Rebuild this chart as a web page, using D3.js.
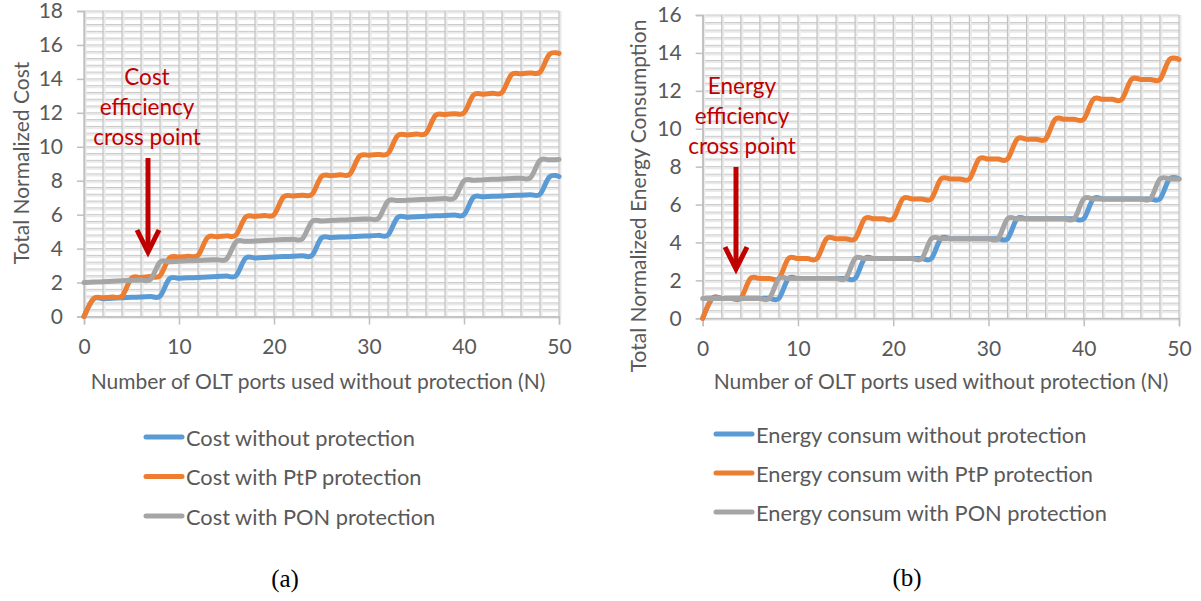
<!DOCTYPE html>
<html>
<head>
<meta charset="utf-8">
<script src="https://cdn.jsdelivr.net/npm/d3@7"></script>
<style>
  html, body { margin: 0; padding: 0; background: #ffffff; }
  svg { display: block; }
</style>
</head>
<body>
<svg id="chart" width="1201" height="601"></svg>
<script>
// ---------- DATA ----------
const ports = d3.range(0, 51); // N = 0..50

const costNone = [0, 1.03, 1.05, 1.08, 1.10, 1.13, 1.15, 1.18, 1.20,
  2.23, 2.25, 2.28, 2.30, 2.33, 2.35, 2.38, 2.40,
  3.43, 3.45, 3.48, 3.50, 3.53, 3.55, 3.58, 3.60,
  4.63, 4.65, 4.68, 4.70, 4.73, 4.75, 4.78, 4.80,
  5.83, 5.85, 5.88, 5.90, 5.93, 5.95, 5.98, 6.00,
  7.03, 7.05, 7.08, 7.10, 7.13, 7.15, 7.18, 7.20,
  8.23, 8.25];
const costPtP = [0, 1.05, 1.10, 1.15, 1.20, 2.25, 2.30, 2.35, 2.40,
  3.45, 3.50, 3.55, 3.60, 4.65, 4.70, 4.75, 4.80,
  5.85, 5.90, 5.95, 6.00, 7.05, 7.10, 7.15, 7.20,
  8.25, 8.30, 8.35, 8.40, 9.45, 9.50, 9.55, 9.60,
  10.65, 10.70, 10.75, 10.80, 11.85, 11.90, 11.95, 12.00,
  13.05, 13.10, 13.15, 13.20, 14.25, 14.30, 14.35, 14.40,
  15.45, 15.50];
const costPON = [2.00, 2.03, 2.05, 2.08, 2.10, 2.13, 2.15, 2.18,
  3.20, 3.23, 3.25, 3.28, 3.30, 3.33, 3.35, 3.38,
  4.40, 4.43, 4.45, 4.48, 4.50, 4.53, 4.55, 4.58,
  5.60, 5.63, 5.65, 5.68, 5.70, 5.73, 5.75, 5.78,
  6.80, 6.83, 6.85, 6.88, 6.90, 6.93, 6.95, 6.98,
  8.00, 8.03, 8.05, 8.08, 8.10, 8.13, 8.15, 8.18,
  9.20, 9.23, 9.25];

const energyNone = [0, 1.05, 1.05, 1.05, 1.05, 1.05, 1.05, 1.05, 1.05,
  2.10, 2.10, 2.10, 2.10, 2.10, 2.10, 2.10, 2.10,
  3.15, 3.15, 3.15, 3.15, 3.15, 3.15, 3.15, 3.15,
  4.20, 4.20, 4.20, 4.20, 4.20, 4.20, 4.20, 4.20,
  5.25, 5.25, 5.25, 5.25, 5.25, 5.25, 5.25, 5.25,
  6.30, 6.30, 6.30, 6.30, 6.30, 6.30, 6.30, 6.30,
  7.35, 7.35];
const energyPtP = [0, 1.05, 1.05, 1.05, 1.05, 2.10, 2.10, 2.10, 2.10,
  3.15, 3.15, 3.15, 3.15, 4.20, 4.20, 4.20, 4.20,
  5.25, 5.25, 5.25, 5.25, 6.30, 6.30, 6.30, 6.30,
  7.35, 7.35, 7.35, 7.35, 8.40, 8.40, 8.40, 8.40,
  9.45, 9.45, 9.45, 9.45, 10.50, 10.50, 10.50, 10.50,
  11.55, 11.55, 11.55, 11.55, 12.60, 12.60, 12.60, 12.60,
  13.65, 13.65];
const energyPON = [1.05, 1.05, 1.05, 1.05, 1.05, 1.05, 1.05, 1.05,
  2.10, 2.10, 2.10, 2.10, 2.10, 2.10, 2.10, 2.10,
  3.15, 3.15, 3.15, 3.15, 3.15, 3.15, 3.15, 3.15,
  4.20, 4.20, 4.20, 4.20, 4.20, 4.20, 4.20, 4.20,
  5.25, 5.25, 5.25, 5.25, 5.25, 5.25, 5.25, 5.25,
  6.30, 6.30, 6.30, 6.30, 6.30, 6.30, 6.30, 6.30,
  7.35, 7.35, 7.35];

const costLabels = ["Cost without protection", "Cost with PtP protection", "Cost with PON protection"];
const energyLabels = ["Energy consum without protection", "Energy consum with PtP protection", "Energy consum with PON protection"];
const xTicks = [0, 10, 20, 30, 40, 50];
const costYTicks = [0, 2, 4, 6, 8, 10, 12, 14, 16, 18];
const energyYTicks = [0, 2, 4, 6, 8, 10, 12, 14, 16];
const costNote = ["Cost", "efficiency", "cross point"];
const energyNote = ["Energy", "efficiency", "cross point"];
const xTitle = "Number of OLT ports used without protection (N)";
const colors = ["#5B9BD5", "#ED7D31", "#A5A5A5"];

// ---------- DRAW ----------
const svg = d3.select("#chart");
const FONT = "Lato, 'Open Sans', sans-serif";
const TXT = "#595959";
const RED = "#C00000";

function drawPanel(cfg) {
  const x = d3.scaleLinear().domain([0, 50]).range([cfg.x0, cfg.x1]);
  const y = d3.scaleLinear().domain([0, cfg.yMax]).range([cfg.y0, cfg.y1]);
  const g = svg.append("g");

  // horizontal minor gridlines every 0.4
  const hMinor = d3.range(0, cfg.yMax + 0.001, 0.4).map(v => +v.toFixed(2));
  g.append("g").selectAll("line").data(hMinor).join("line")
    .attr("x1", x(0)).attr("x2", x(50))
    .attr("y1", d => y(d) + 1.5).attr("y2", d => y(d) + 1.5)
    .attr("stroke", "#eaeaea").attr("stroke-width", 2);
  g.append("g").selectAll("line").data(hMinor).join("line")
    .attr("x1", x(0)).attr("x2", x(50))
    .attr("y1", d => y(d)).attr("y2", d => y(d))
    .attr("stroke", "#c8c8c8").attr("stroke-width", 1);
  // vertical gridlines every 2
  const vMinor = d3.range(0, 51, 2);
  g.append("g").selectAll("line").data(vMinor).join("line")
    .attr("x1", d => x(d) + 1.5).attr("x2", d => x(d) + 1.5)
    .attr("y1", y(cfg.yMax)).attr("y2", y(0))
    .attr("stroke", "#eaeaea").attr("stroke-width", 2);
  g.append("g").selectAll("line").data(vMinor).join("line")
    .attr("x1", d => x(d)).attr("x2", d => x(d))
    .attr("y1", y(cfg.yMax)).attr("y2", y(0))
    .attr("stroke", "#c2c2c2").attr("stroke-width", 1.2);

  // axes
  const yAxis = d3.axisLeft(y).tickValues(cfg.yTicks).tickSize(7).tickPadding(14).tickFormat(d3.format("d"));
  const yG = g.append("g").attr("transform", `translate(${x(0)},0)`).call(yAxis);
  const xAxis = d3.axisBottom(x).tickValues(xTicks).tickSize(8).tickPadding(15).tickFormat(d3.format("d"));
  const xG = g.append("g").attr("transform", `translate(0,${y(0)})`).call(xAxis);
  [yG, xG].forEach(a => {
    a.select(".domain").attr("stroke", "#bfbfbf").attr("stroke-width", 1.5);
    a.selectAll(".tick line").attr("stroke", "#bfbfbf").attr("stroke-width", 1.5);
    a.selectAll(".tick text").attr("fill", TXT).attr("font-family", FONT).attr("font-size", 21);
  });

  // lines
  const line = d3.line()
    .x((d, i) => x(ports[i]))
    .y(d => y(d))
    .curve(d3.curveCatmullRom.alpha(0));
  cfg.series.forEach((s, k) => {
    g.append("path").datum(s)
      .attr("d", line)
      .attr("fill", "none")
      .attr("stroke", colors[k])
      .attr("stroke-width", 5)
      .attr("stroke-linejoin", "round")
      .attr("stroke-linecap", "round");
  });

  // axis titles
  g.append("text")
    .attr("x", cfg.xTitleX).attr("y", cfg.xTitleY)
    .attr("text-anchor", "middle")
    .attr("fill", TXT).attr("font-family", FONT).attr("font-size", 21)
    .text(xTitle);
  g.append("text")
    .attr("transform", `translate(${cfg.yTitleX},${cfg.yTitleCY}) rotate(-90)`)
    .attr("text-anchor", "middle").attr("dominant-baseline", "central")
    .attr("fill", TXT).attr("font-family", FONT).attr("font-size", 21)
    .text(cfg.yTitle);

  // annotation
  cfg.note.forEach((t, i) => {
    g.append("text")
      .attr("x", cfg.noteX).attr("y", cfg.noteY + i * 30)
      .attr("text-anchor", "middle").attr("dominant-baseline", "central")
      .attr("fill", RED).attr("font-family", FONT).attr("font-size", 22.5)
      .text(t);
  });
  g.append("line")
    .attr("x1", cfg.arrowX).attr("x2", cfg.arrowX)
    .attr("y1", cfg.arrowY0).attr("y2", cfg.arrowY1 - 3)
    .attr("stroke", RED).attr("stroke-width", 5);
  g.append("path")
    .attr("d", `M${cfg.arrowX - 11},${cfg.arrowY1 - 22} L${cfg.arrowX},${cfg.arrowY1} L${cfg.arrowX + 11},${cfg.arrowY1 - 22}`)
    .attr("fill", "none").attr("stroke", RED).attr("stroke-width", 5)
    .attr("stroke-linejoin", "miter");

  // legend
  cfg.labels.forEach((t, i) => {
    const ly = cfg.legY + i * cfg.legStep;
    g.append("line")
      .attr("x1", cfg.legX).attr("x2", cfg.legX + 36)
      .attr("y1", ly).attr("y2", ly)
      .attr("stroke", colors[i]).attr("stroke-width", 5).attr("stroke-linecap", "round");
    g.append("text")
      .attr("x", cfg.legX + 40).attr("y", ly)
      .attr("dominant-baseline", "central")
      .attr("fill", TXT).attr("font-family", FONT).attr("font-size", 21.8)
      .text(t);
  });

  // caption
  g.append("text")
    .attr("x", cfg.capX).attr("y", cfg.capY)
    .attr("text-anchor", "middle").attr("dominant-baseline", "central")
    .attr("fill", "#000").attr("font-family", "'Liberation Serif', 'DejaVu Serif', serif").attr("font-size", 25)
    .text(cfg.caption);
}

drawPanel({
  x0: 84, x1: 559, y0: 316.5, y1: 11, yMax: 18, yTicks: costYTicks,
  series: [costNone, costPtP, costPON],
  yTitle: "Total Normalized Cost", yTitleX: 20, yTitleCY: 163,
  xTitleX: 318, xTitleY: 389,
  note: costNote, noteX: 147, noteY: 76,
  arrowX: 148, arrowY0: 158, arrowY1: 252,
  labels: costLabels, legX: 146, legY: 437, legStep: 39.5,
  caption: "(a)", capX: 285, capY: 578
});

drawPanel({
  x0: 702.7, x1: 1179, y0: 318.3, y1: 15, yMax: 16, yTicks: energyYTicks,
  series: [energyNone, energyPtP, energyPON],
  yTitle: "Total Normalized Energy Consumption", yTitleX: 637, yTitleCY: 196,
  xTitleX: 941, xTitleY: 389,
  note: energyNote, noteX: 742, noteY: 85,
  arrowX: 736, arrowY0: 167, arrowY1: 269,
  labels: energyLabels, legX: 716, legY: 434, legStep: 39,
  caption: "(b)", capX: 907, capY: 577
});
</script>
</body>
</html>
